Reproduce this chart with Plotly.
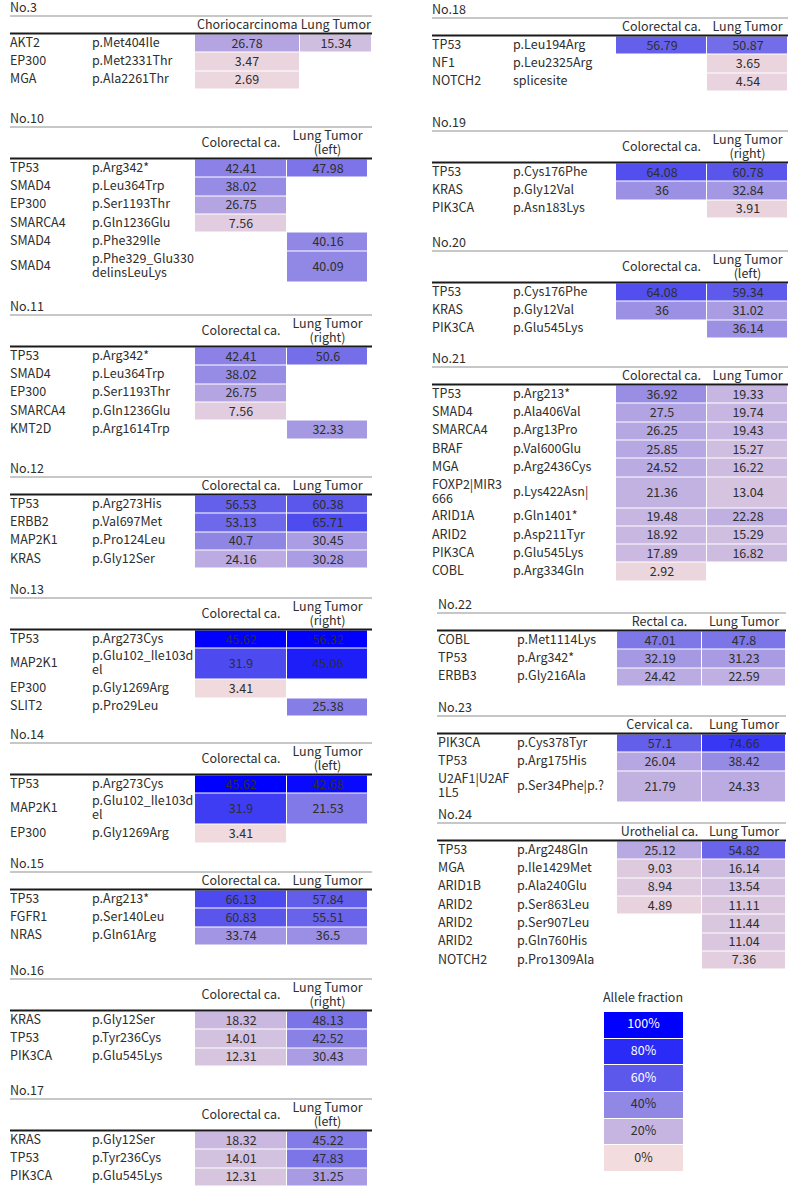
import plotly.graph_objects as go

FONT = "Noto Sans CJK JP"
TXT = "#2e2e2e"
FS = 12.5

# ---------------- data ----------------
NO3_HEAD = ["Choriocarcinoma", "Lung Tumor"]
NO3_GENE = ["AKT2", "EP300", "MGA"]
NO3_MUT = ["p.Met404Ile", "p.Met2331Thr", "p.Ala2261Thr"]
NO3_A = [26.78, 3.47, 2.69]
NO3_B = [15.34, None, None]

NO10_HEAD = ["Colorectal ca.", "Lung Tumor\n(left)"]
NO10_GENE = ["TP53", "SMAD4", "EP300", "SMARCA4", "SMAD4", "SMAD4"]
NO10_MUT = ["p.Arg342*", "p.Leu364Trp", "p.Ser1193Thr", "p.Gln1236Glu", "p.Phe329Ile",
            "p.Phe329_Glu330\ndelinsLeuLys"]
NO10_A = [42.41, 38.02, 26.75, 7.56, None, None]
NO10_B = [47.98, None, None, None, 40.16, 40.09]

NO11_HEAD = ["Colorectal ca.", "Lung Tumor\n(right)"]
NO11_GENE = ["TP53", "SMAD4", "EP300", "SMARCA4", "KMT2D"]
NO11_MUT = ["p.Arg342*", "p.Leu364Trp", "p.Ser1193Thr", "p.Gln1236Glu", "p.Arg1614Trp"]
NO11_A = [42.41, 38.02, 26.75, 7.56, None]
NO11_B = [50.6, None, None, None, 32.33]

NO12_HEAD = ["Colorectal ca.", "Lung Tumor"]
NO12_GENE = ["TP53", "ERBB2", "MAP2K1", "KRAS"]
NO12_MUT = ["p.Arg273His", "p.Val697Met", "p.Pro124Leu", "p.Gly12Ser"]
NO12_A = [56.53, 53.13, 40.7, 24.16]
NO12_B = [60.38, 65.71, 30.45, 30.28]

NO13_HEAD = ["Colorectal ca.", "Lung Tumor\n(right)"]
NO13_GENE = ["TP53", "MAP2K1", "EP300", "SLIT2"]
NO13_MUT = ["p.Arg273Cys", "p.Glu102_Ile103d\nel", "p.Gly1269Arg", "p.Pro29Leu"]
NO13_A = [45.62, 31.9, 3.41, None]
NO13_B = [56.32, 45.06, None, 25.38]
# colour level (this table is shaded more strongly)
NO13_SHADE_A = [100, 66, 1, None]
NO13_SHADE_B = [100, 86, None, 44]

NO14_HEAD = ["Colorectal ca.", "Lung Tumor\n(left)"]
NO14_GENE = ["TP53", "MAP2K1", "EP300"]
NO14_MUT = ["p.Arg273Cys", "p.Glu102_Ile103d\nel", "p.Gly1269Arg"]
NO14_A = [45.62, 31.9, 3.41]
NO14_B = [42.68, 21.53, None]
NO14_SHADE_A = [100, 72, 1]
NO14_SHADE_B = [96, 46, None]

NO15_HEAD = ["Colorectal ca.", "Lung Tumor"]
NO15_GENE = ["TP53", "FGFR1", "NRAS"]
NO15_MUT = ["p.Arg213*", "p.Ser140Leu", "p.Gln61Arg"]
NO15_A = [66.13, 60.83, 33.74]
NO15_B = [57.84, 55.51, 36.5]

NO16_HEAD = ["Colorectal ca.", "Lung Tumor\n(right)"]
NO16_GENE = ["KRAS", "TP53", "PIK3CA"]
NO16_MUT = ["p.Gly12Ser", "p.Tyr236Cys", "p.Glu545Lys"]
NO16_A = [18.32, 14.01, 12.31]
NO16_B = [48.13, 42.52, 30.43]

NO17_HEAD = ["Colorectal ca.", "Lung Tumor\n(left)"]
NO17_GENE = ["KRAS", "TP53", "PIK3CA"]
NO17_MUT = ["p.Gly12Ser", "p.Tyr236Cys", "p.Glu545Lys"]
NO17_A = [18.32, 14.01, 12.31]
NO17_B = [45.22, 47.83, 31.25]

NO18_HEAD = ["Colorectal ca.", "Lung Tumor"]
NO18_GENE = ["TP53", "NF1", "NOTCH2"]
NO18_MUT = ["p.Leu194Arg", "p.Leu2325Arg", "splicesite"]
NO18_A = [56.79, None, None]
NO18_B = [50.87, 3.65, 4.54]

NO19_HEAD = ["Colorectal ca.", "Lung Tumor\n(right)"]
NO19_GENE = ["TP53", "KRAS", "PIK3CA"]
NO19_MUT = ["p.Cys176Phe", "p.Gly12Val", "p.Asn183Lys"]
NO19_A = [64.08, 36, None]
NO19_B = [60.78, 32.84, 3.91]

NO20_HEAD = ["Colorectal ca.", "Lung Tumor\n(left)"]
NO20_GENE = ["TP53", "KRAS", "PIK3CA"]
NO20_MUT = ["p.Cys176Phe", "p.Gly12Val", "p.Glu545Lys"]
NO20_A = [64.08, 36, None]
NO20_B = [59.34, 31.02, 36.14]

NO21_HEAD = ["Colorectal ca.", "Lung Tumor"]
NO21_GENE = ["TP53", "SMAD4", "SMARCA4", "BRAF", "MGA", "FOXP2|MIR3\n666",
             "ARID1A", "ARID2", "PIK3CA", "COBL"]
NO21_MUT = ["p.Arg213*", "p.Ala406Val", "p.Arg13Pro", "p.Val600Glu", "p.Arg2436Cys",
            "p.Lys422Asn|", "p.Gln1401*", "p.Asp211Tyr", "p.Glu545Lys", "p.Arg334Gln"]
NO21_A = [36.92, 27.5, 26.25, 25.85, 24.52, 21.36, 19.48, 18.92, 17.89, 2.92]
NO21_B = [19.33, 19.74, 19.43, 15.27, 16.22, 13.04, 22.28, 15.29, 16.82, None]

NO22_HEAD = ["Rectal ca.", "Lung Tumor"]
NO22_GENE = ["COBL", "TP53", "ERBB3"]
NO22_MUT = ["p.Met1114Lys", "p.Arg342*", "p.Gly216Ala"]
NO22_A = [47.01, 32.19, 24.42]
NO22_B = [47.8, 31.23, 22.59]

NO23_HEAD = ["Cervical ca.", "Lung Tumor"]
NO23_GENE = ["PIK3CA", "TP53", "U2AF1|U2AF\n1L5"]
NO23_MUT = ["p.Cys378Tyr", "p.Arg175His", "p.Ser34Phe|p.?"]
NO23_A = [57.1, 26.04, 21.79]
NO23_B = [74.66, 38.42, 24.33]

NO24_HEAD = ["Urothelial ca.", "Lung Tumor"]
NO24_GENE = ["TP53", "MGA", "ARID1B", "ARID2", "ARID2", "ARID2", "NOTCH2"]
NO24_MUT = ["p.Arg248Gln", "p.Ile1429Met", "p.Ala240Glu", "p.Ser863Leu", "p.Ser907Leu",
            "p.Gln760His", "p.Pro1309Ala"]
NO24_A = [25.12, 9.03, 8.94, 4.89, None, None, None]
NO24_B = [54.82, 16.14, 13.54, 11.11, 11.44, 11.04, 7.36]

LEGEND_TITLE = "Allele fraction"
LEGEND_LEVELS = [100, 80, 60, 40, 20, 0]
LEGEND_LABELS = ["100%", "80%", "60%", "40%", "20%", "0%"]

COLORSCALE = [[0.0, "#F2DCDD"], [0.2, "#C6B5E1"], [0.4, "#9187E5"],
              [0.6, "#5C58EC"], [0.8, "#2B2BF7"], [1.0, "#0000FF"]]

# ---------------- layout of the tables (page pixels) ----------------
LEFT = dict(gene_x=10, mut_x=92, line=(10, 372))
RIGHT = dict(gene_x=432, mut_x=513, line=(432, 788))
RIGHT2 = dict(gene_x=438, mut_x=517, line=(437, 786))

TABLES = [
    ("No.3", NO3_HEAD, NO3_GENE, NO3_MUT, NO3_A, NO3_B, None, None, LEFT, 16, [195, 299.5, 372]),
    ("No.10", NO10_HEAD, NO10_GENE, NO10_MUT, NO10_A, NO10_B, None, None, LEFT, 127, [195, 287, 368]),
    ("No.11", NO11_HEAD, NO11_GENE, NO11_MUT, NO11_A, NO11_B, None, None, LEFT, 315, [195, 287, 368]),
    ("No.12", NO12_HEAD, NO12_GENE, NO12_MUT, NO12_A, NO12_B, None, None, LEFT, 477, [195, 287, 368]),
    ("No.13", NO13_HEAD, NO13_GENE, NO13_MUT, NO13_A, NO13_B, NO13_SHADE_A, NO13_SHADE_B, LEFT, 598, [195, 287, 368]),
    ("No.14", NO14_HEAD, NO14_GENE, NO14_MUT, NO14_A, NO14_B, NO14_SHADE_A, NO14_SHADE_B, LEFT, 743, [195, 287, 368]),
    ("No.15", NO15_HEAD, NO15_GENE, NO15_MUT, NO15_A, NO15_B, None, None, LEFT, 872, [195, 287, 368]),
    ("No.16", NO16_HEAD, NO16_GENE, NO16_MUT, NO16_A, NO16_B, None, None, LEFT, 979, [195, 287, 368]),
    ("No.17", NO17_HEAD, NO17_GENE, NO17_MUT, NO17_A, NO17_B, None, None, LEFT, 1099, [195, 287, 368]),
    ("No.18", NO18_HEAD, NO18_GENE, NO18_MUT, NO18_A, NO18_B, None, None, RIGHT, 18, [616, 707, 788]),
    ("No.19", NO19_HEAD, NO19_GENE, NO19_MUT, NO19_A, NO19_B, None, None, RIGHT, 131, [616, 707, 788]),
    ("No.20", NO20_HEAD, NO20_GENE, NO20_MUT, NO20_A, NO20_B, None, None, RIGHT, 251, [616, 707, 788]),
    ("No.21", NO21_HEAD, NO21_GENE, NO21_MUT, NO21_A, NO21_B, None, None, RIGHT, 367, [616, 707, 788]),
    ("No.22", NO22_HEAD, NO22_GENE, NO22_MUT, NO22_A, NO22_B, None, None, RIGHT2, 613, [617, 702, 786]),
    ("No.23", NO23_HEAD, NO23_GENE, NO23_MUT, NO23_A, NO23_B, None, None, RIGHT2, 716, [617, 702, 786]),
    ("No.24", NO24_HEAD, NO24_GENE, NO24_MUT, NO24_A, NO24_B, None, None, RIGHT2, 823, [617, 702, 786]),
]

ROW_H1 = 18.3
ROW_H2 = 31.0
HEAD_H1 = 17.5
HEAD_H2 = 31.5
LINE_SP = 14.0


def fmt(v):
    return "" if v is None else f"{v:g}"


left_x, left_y, left_t = [], [], []
cen_x, cen_y, cen_t = [], [], []


def put(lst_x, lst_y, lst_t, x, y, text):
    parts = text.split("\n")
    n = len(parts)
    for i, p in enumerate(parts):
        lst_x.append(x)
        lst_y.append(y + (i - (n - 1) / 2) * LINE_SP)
        lst_t.append(p)


fig = go.Figure()

for (title, head, genes, muts, a, b, sa, sb, col, top, xe) in TABLES:
    two_head = any("\n" in h for h in head)
    hh = HEAD_H2 if two_head else HEAD_H1
    bottom = top + hh
    put(left_x, left_y, left_t, col["gene_x"], top - 7.5, title)
    fig.add_trace(go.Scatter(x=list(col["line"]), y=[top, top], mode="lines",
                             line=dict(color="#8f8f8f", width=1), hoverinfo="skip"))
    fig.add_trace(go.Scatter(x=list(col["line"]), y=[bottom, bottom], mode="lines",
                             line=dict(color="#1a1a1a", width=2), hoverinfo="skip"))
    hy = (top + bottom) / 2 + 1
    for j, h in enumerate(head):
        put(cen_x, cen_y, cen_t, (xe[j] + xe[j + 1]) / 2, hy, h)
    edges = [bottom + 1]
    for g, m in zip(genes, muts):
        two = ("\n" in g) or ("\n" in m)
        edges.append(edges[-1] + (ROW_H2 if two else ROW_H1))
    for i, (g, m) in enumerate(zip(genes, muts)):
        yc = (edges[i] + edges[i + 1]) / 2
        put(left_x, left_y, left_t, col["gene_x"], yc, g)
        put(left_x, left_y, left_t, col["mut_x"], yc, m)
    shade_a = sa if sa is not None else a
    shade_b = sb if sb is not None else b
    z = [[shade_a[i], shade_b[i]] for i in range(len(a))]
    txt = [[fmt(a[i]), fmt(b[i])] for i in range(len(a))]
    fig.add_trace(go.Heatmap(
        x=xe, y=edges, z=z, text=txt, texttemplate="%{text}",
        textfont=dict(family=FONT, size=FS, color=TXT),
        colorscale=COLORSCALE, zmin=0, zmax=100, showscale=False,
        xgap=1, ygap=1, hoverinfo="skip"))

# legend
LEG_X = [604, 683]
LEG_TOP, LEG_BOT = 1012, 1172
n = len(LEGEND_LEVELS)
leg_edges = [LEG_TOP + (LEG_BOT - LEG_TOP) * k / n for k in range(n + 1)]
fig.add_trace(go.Heatmap(
    x=LEG_X, y=leg_edges, z=[[v] for v in LEGEND_LEVELS],
    colorscale=COLORSCALE, zmin=0, zmax=100, showscale=False,
    xgap=0, ygap=1, hoverinfo="skip"))
leg_cx = (LEG_X[0] + LEG_X[1]) / 2
fig.add_trace(go.Scatter(
    x=[leg_cx] * n, y=[(leg_edges[k] + leg_edges[k + 1]) / 2 for k in range(n)],
    text=LEGEND_LABELS, mode="text", textposition="middle center", cliponaxis=False,
    textfont=dict(family=FONT, size=FS,
                  color=["#ffffff" if v >= 60 else TXT for v in LEGEND_LEVELS]),
    hoverinfo="skip"))
put(cen_x, cen_y, cen_t, 643, 999, LEGEND_TITLE)

fig.add_trace(go.Scatter(x=left_x, y=left_y, text=left_t, mode="text",
                         textposition="middle right", cliponaxis=False,
                         textfont=dict(family=FONT, size=FS, color=TXT), hoverinfo="skip"))
fig.add_trace(go.Scatter(x=cen_x, y=cen_y, text=cen_t, mode="text",
                         textposition="middle center", cliponaxis=False,
                         textfont=dict(family=FONT, size=FS, color=TXT), hoverinfo="skip"))

W, H = 798, 1189
fig.update_layout(
    width=W, height=H, margin=dict(l=0, r=0, t=0, b=0),
    paper_bgcolor="white", plot_bgcolor="white", showlegend=False,
    xaxis=dict(range=[0, W], visible=False, fixedrange=True),
    yaxis=dict(range=[H, 0], visible=False, fixedrange=True),
    font=dict(family=FONT, size=FS, color=TXT),
)

# remove the browser's default 8px body margin so the figure starts at the page corner
fig.write_html("out.html", config={"displayModeBar": False},
               post_script="document.body.style.margin='0px';document.body.style.overflow='hidden';")
